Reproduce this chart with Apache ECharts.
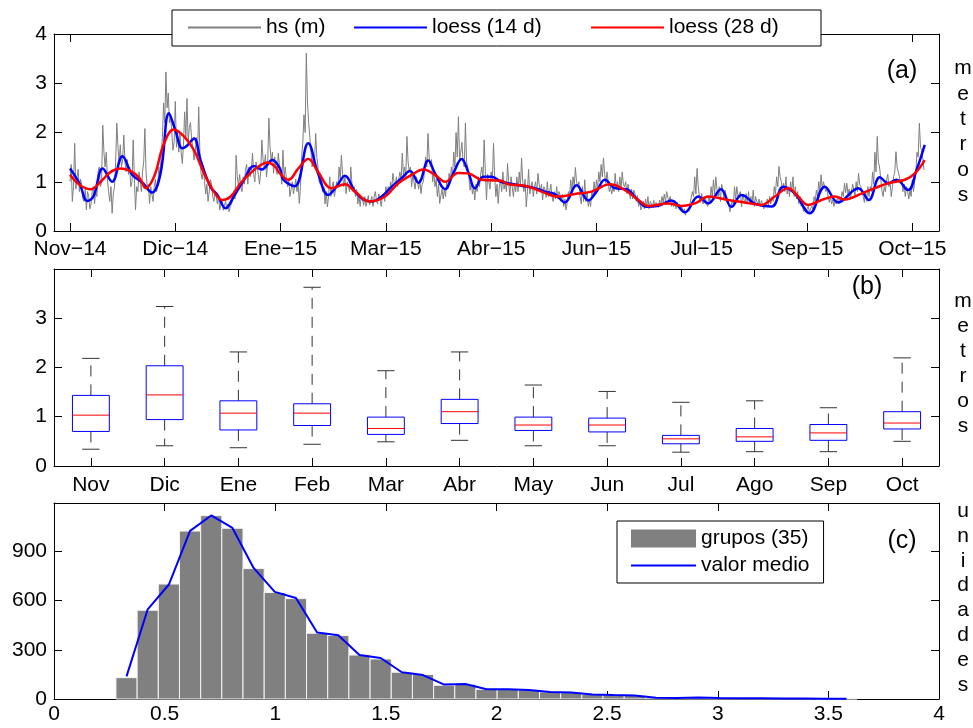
<!DOCTYPE html>
<html><head><meta charset="utf-8">
<script src="https://cdn.jsdelivr.net/npm/echarts@6/dist/echarts.min.js"></script>
<style>html,body{margin:0;padding:0;background:#fff}#c{width:973px;height:728px}</style>
</head><body><div id="c"></div>
<script>
const FONT = "'Liberation Sans', Arial, Helvetica, sans-serif";

// ---------- (a) time series: readings twice a day from Nov-2014 ----------
// value at day d (00 h)
const hsAt00h = [
1.0,0.6,1.78,1.1,0.8,0.95,0.6,0.43,0.7,0.55,
0.9,0.83,1.2,0.9,2.15,1.3,1.04,0.6,0.36,0.9,
2.19,1.4,1.3,1.95,1.2,1.15,0.9,1.85,0.43,0.8,
1.04,1.2,2.08,0.9,0.56,0.75,0.9,0.8,1.3,1.6,
2.6,3.23,2.8,2.32,1.64,2.63,2.0,1.98,1.37,2.42,
2.69,2.1,1.85,1.44,1.9,2.52,1.17,1.3,0.75,0.6,
1.04,0.7,0.8,0.55,0.43,0.6,0.52,0.45,0.39,0.55,
0.8,1.54,0.9,0.9,1.1,1.25,0.95,1.1,1.58,1.0,
1.3,0.95,1.85,1.3,1.1,2.29,1.4,1.17,1.3,1.58,
1.2,1.64,1.3,0.9,0.7,1.0,0.9,0.8,0.56,1.5,
2.36,3.61,2.2,1.6,1.58,1.98,1.3,0.95,0.8,0.55,
0.49,1.1,0.9,0.7,1.0,1.3,1.54,0.9,0.76,0.9,
1.3,0.8,0.7,0.55,0.5,0.65,0.7,0.6,0.53,0.7,
0.7,0.6,0.75,0.5,0.75,0.9,0.9,1.0,1.17,0.9,
0.9,1.2,1.58,1.3,1.92,1.2,0.9,1.0,1.1,0.85,
0.76,1.0,1.5,1.98,1.31,1.0,0.9,0.7,0.56,0.85,
0.83,1.0,1.17,1.3,1.6,2.0,2.32,1.6,1.4,2.19,
1.3,0.83,0.75,0.63,0.8,0.9,1.3,1.85,0.63,1.0,
1.2,1.78,0.7,0.56,1.04,1.2,1.0,1.37,0.7,0.9,
0.97,1.1,1.2,1.48,0.8,0.49,1.25,0.9,0.7,1.0,
1.17,0.8,0.63,0.85,1.0,0.8,0.7,0.8,0.9,0.8,
0.6,0.5,0.43,0.8,1.04,1.1,1.29,0.9,0.7,0.9,
1.04,0.8,0.63,0.8,1.0,1.04,1.2,1.35,1.48,0.97,
1.0,0.9,0.88,1.17,1.0,1.1,1.2,0.9,0.76,0.8,
0.85,0.83,0.6,0.5,0.43,0.6,0.65,0.7,0.6,0.5,
0.49,0.6,0.63,0.7,0.75,0.8,0.6,0.5,0.49,0.45,
0.5,0.43,0.38,0.32,0.45,0.56,0.8,1.1,1.27,0.7,
0.76,0.6,0.56,0.7,0.9,1.04,1.1,0.7,0.6,0.83,
0.83,0.6,0.39,0.6,0.9,0.9,0.7,0.49,0.65,0.76,
0.8,0.7,0.83,0.7,0.55,0.49,0.6,0.56,0.65,0.7,
0.7,0.9,1.1,1.31,1.0,0.97,1.1,0.9,1.0,1.1,
0.9,0.8,0.7,0.55,0.49,0.45,0.39,0.5,0.7,0.83,
1.0,1.14,1.0,0.8,0.7,0.7,0.63,0.63,0.7,0.7,
0.8,0.97,0.97,0.85,0.8,0.83,1.0,1.17,0.9,0.7,
0.8,0.9,0.9,1.2,1.6,1.92,1.3,0.83,0.9,1.04,
0.9,0.7,1.1,1.61,1.2,0.97,0.8,0.7,0.8,0.83,
1.04,1.0,1.6,2.19,1.64,1.24];
// value at day d + 12 h
const hsAt12h = [
1.35,0.9,0.85,1.25,1.05,0.65,0.85,0.8,0.45,0.8,
0.55,0.7,1.3,1.0,1.6,1.6,0.8,0.9,0.75,1.4,
1.7,1.75,1.45,1.4,1.45,1.3,1.0,1.1,0.9,1.2,
0.8,1.4,1.2,0.95,0.9,0.6,1.05,0.95,1.1,1.9,
2.2,2.5,2.2,2.0,1.8,1.7,1.6,1.6,1.75,1.9,
1.8,2.2,1.7,1.6,1.5,1.6,1.05,1.0,0.95,0.8,
0.95,0.6,0.7,0.7,0.55,0.42,0.6,0.55,0.5,0.62,
0.65,1.1,1.15,0.8,0.95,1.35,1.3,1.2,1.15,1.4,
1.15,1.2,1.45,1.55,1.4,1.7,1.6,1.5,1.15,1.35,
0.95,1.1,1.05,1.05,0.85,0.75,1.05,0.95,0.9,1.8,
2.0,2.6,1.9,1.3,1.4,1.5,1.0,1.1,0.9,0.8,
0.7,0.7,1.0,0.85,0.9,1.05,1.15,1.1,1.0,0.8,
0.95,0.9,0.85,0.72,0.7,0.52,0.5,0.72,0.6,0.5,
0.8,0.55,0.65,0.7,0.6,0.75,0.75,0.85,1.0,1.1,
1.05,1.0,1.15,1.1,1.4,1.3,1.15,0.85,1.0,1.05,
0.95,1.2,1.3,1.5,1.45,1.2,1.05,0.95,0.72,0.65,
0.7,0.85,1.0,1.1,1.3,1.5,1.45,1.8,1.3,1.4,
1.1,1.0,0.9,0.95,1.1,1.15,1.05,1.2,1.15,0.85,
1.0,1.1,0.95,0.9,0.8,0.85,0.8,1.0,1.1,0.7,
0.8,0.8,0.9,1.0,1.05,0.8,0.75,1.0,0.9,0.75,
0.95,0.95,0.9,0.68,0.7,0.95,0.6,0.65,0.65,0.72,
0.75,0.65,0.58,0.7,0.8,0.9,1.0,1.0,0.55,0.6,
0.6,0.5,0.5,0.7,0.75,0.85,1.0,1.1,1.15,1.2,
0.8,0.75,0.8,0.85,0.8,0.85,0.95,1.0,0.95,0.65,
0.65,0.75,0.72,0.6,0.5,0.45,0.5,0.45,0.62,0.62,
0.58,0.48,0.52,0.58,0.6,0.68,0.7,0.6,0.62,0.58,
0.55,0.5,0.45,0.4,0.4,0.55,0.7,0.75,0.9,0.58,
0.55,0.68,0.5,0.6,0.7,0.75,0.85,0.9,0.95,0.65,
0.62,0.55,0.5,0.55,0.65,0.7,0.8,0.75,0.55,0.55,
0.55,0.55,0.5,0.6,0.65,0.62,0.45,0.5,0.5,0.55,
0.6,0.75,0.9,1.1,0.85,0.8,0.75,0.7,0.8,0.7,
0.65,0.55,0.5,0.4,0.38,0.5,0.35,0.45,0.6,0.7,
0.8,0.85,0.9,0.85,0.58,0.55,0.5,0.55,0.55,0.6,
0.7,0.78,0.75,0.65,0.95,0.72,0.8,0.95,0.8,0.58,
0.6,0.7,0.8,0.95,1.2,1.4,1.05,0.7,0.8,1.15,
1.0,0.9,1.2,1.3,1.1,1.05,0.95,0.9,0.65,0.7,
0.8,1.2,1.5,1.7,1.45];

const loess14Day = [0,4,7.4,10,14,18,22.4,26.6,31,35,38.7,42.3,45,48,50,53,55.8,60,63,66.5,70,74.4,78.6,82,86.5,89.7,91.2,96.1,101.8,106,110.4,113.9,117.5,121.8,125.3,128.9,133.2,137.5,141.7,145.3,148.9,153.1,156,160.3,163.8,167.4,170.2,173.1,176.6,180.2,184.2,187.3,193,198.7,203,207.2,211.5,216.5,221.5,225,228.6,232.9,237.9,242.1,246.4,251.4,257.1,262.8,268.5,272.8,278.2,282.7,287,293,300,304.8,309.8,316.2,322.6,328.3,336.9,341.4,346.1,349.7,353.2,358.2,361.8,365.3];
const loess14 = [1.27,0.97,0.61,0.70,1.27,1.0,1.52,1.14,0.98,0.78,1.17,2.39,2.05,1.68,1.73,1.88,1.44,0.90,0.73,0.46,0.70,1.04,1.32,1.25,1.44,1.27,1.04,0.91,1.78,1.17,0.73,0.90,1.12,0.80,0.64,0.60,0.70,0.90,1.07,1.22,0.98,1.43,1.17,0.85,1.17,1.46,1.20,0.87,1.10,1.10,1.0,0.97,0.92,0.87,0.80,0.75,0.58,0.93,0.62,0.80,1.04,0.87,0.85,0.66,0.49,0.51,0.62,0.38,0.70,0.56,0.85,0.49,0.73,0.55,0.50,0.90,0.76,0.36,0.90,0.58,0.87,0.63,1.09,0.97,1.04,0.83,1.24,1.75];

const loess28Day = [0,4.3,8.8,13.1,17.4,21.6,26.6,30.2,32.3,35.9,40.2,44.4,48.7,53,57.3,61.5,65.1,68.7,72.9,77.2,81.5,84.3,87.6,89.7,93.3,97.6,101.8,106,111.8,117.5,121.8,128.2,134.6,140.3,146,151,156,160.3,165.9,170.2,175.9,184.2,187.3,194.4,201.5,208.7,215.8,222.9,230.7,237.2,242.9,247.1,255.7,261.4,267.1,272.8,278.2,281.3,288.4,295.5,301.2,306.9,311.2,315.5,321.2,326.9,331.2,338.3,344,349.7,356.8,361.1,365.3];
const loess28 = [1.14,0.93,0.85,1.0,1.2,1.27,1.2,1.04,0.87,1.10,1.78,2.06,1.92,1.64,1.17,0.80,0.63,0.70,0.97,1.18,1.34,1.39,1.31,1.17,1.04,1.27,1.46,1.20,0.87,0.95,0.80,0.60,0.70,0.97,1.14,1.25,1.14,1.0,1.18,1.17,1.04,1.02,0.95,0.92,0.80,0.70,0.75,0.80,0.95,0.83,0.63,0.51,0.56,0.51,0.56,0.70,0.66,0.63,0.58,0.53,0.70,0.87,0.70,0.53,0.63,0.70,0.64,0.76,0.87,0.97,1.04,1.17,1.44];

const dateTickDays = [0,45,90,135,180,225,270,315,360];
const dateTickLabels = ['Nov\u221214','Dic\u221214','Ene\u221215','Mar\u221215','Abr\u221215','Jun\u221215','Jul\u221215','Sep\u221215','Oct\u221215'];

// ---------- (b) monthly box plots ----------
const months = ['Nov','Dic','Ene','Feb','Mar','Abr','May','Jun','Jul','Ago','Sep','Oct'];
const whiskerLow  = [0.34,0.41,0.37,0.44,0.49,0.52,0.41,0.41,0.28,0.29,0.29,0.50];
const quart1      = [0.70,0.94,0.73,0.82,0.64,0.86,0.72,0.69,0.45,0.50,0.52,0.75];
const medians     = [1.03,1.44,1.07,1.07,0.76,1.10,0.83,0.83,0.55,0.59,0.67,0.87];
const quart3      = [1.43,2.03,1.32,1.26,0.99,1.35,0.99,0.97,0.62,0.76,0.84,1.10];
const whiskerHigh = [2.18,3.23,2.31,3.62,1.93,2.31,1.64,1.51,1.29,1.32,1.18,2.19];

// ---------- (c) histogram, 35 groups ----------
const histLo = 0.28, histHi = 3.63;
const histCounts = [130,541,701,1024,1118,1041,795,649,612,401,387,268,244,163,149,84,90,59,59,55,43,40,28,24,22,8,6,9,6,5,4,3,3,2,2];
const meanCurve  = [138,547,698,1025,1119,1043,799,653,616,405,389,268,250,163,146,88,92,59,59,55,43,40,28,24,22,8,6,9,6,5,4,3,3,2,2];

// ---------- build ----------
const hsSeriesData = [];
hsAt00h.forEach((v, d) => {
  hsSeriesData.push([d, v]);
  if (d < hsAt12h.length) hsSeriesData.push([d + 0.5, hsAt12h[d]]);
});
const binW = (histHi - histLo) / histCounts.length;
const txt = {fontFamily: FONT, fontSize: 21, color: '#000'};
const tickIn = {show: true, inside: true, length: 8, lineStyle: {color: '#000', width: 1}};
const noSym = {opacity: 0, borderWidth: 0};

function vAxis(grid, pos, min, max, interval, showLabel) {
  return {
    type: 'value', gridIndex: grid, position: pos, min, max, interval,
    axisLine: {show: true, onZero: false, lineStyle: {color: '#000', width: 1}},
    axisTick: tickIn, splitLine: {show: false},
    axisLabel: Object.assign({show: showLabel, margin: 7,
      formatter: v => (Math.abs(v / interval - Math.round(v / interval)) < 1e-6 ? String(+v.toFixed(2)) : '')}, txt)
  };
}

const chart = echarts.init(document.getElementById('c'), null, {renderer: 'canvas'});
const option = {
  animation: false,
  backgroundColor: '#fff',
  grid: [
    {left: 54, right: 34, top: 34, height: 197},
    {left: 54, right: 34, top: 269, height: 197},
    {left: 54, right: 34, top: 503, height: 196}
  ],
  xAxis: [
    {type: 'value', gridIndex: 0, position: 'bottom', min: -6.84, max: 371.4,
      axisLine: {show: true, onZero: false, lineStyle: {color: '#000'}}, splitLine: {show: false},
      axisTick: Object.assign({customValues: dateTickDays}, tickIn),
      axisLabel: Object.assign({customValues: dateTickDays, margin: 8,
        formatter: v => dateTickLabels[dateTickDays.indexOf(Math.round(v))] || ''}, txt)},
    {type: 'value', gridIndex: 0, position: 'top', min: -6.84, max: 371.4,
      axisLine: {show: true, onZero: false, lineStyle: {color: '#000'}}, splitLine: {show: false},
      axisTick: Object.assign({customValues: dateTickDays}, tickIn), axisLabel: {show: false}},
    {type: 'category', gridIndex: 1, position: 'bottom', data: months, boundaryGap: true,
      axisLine: {show: true, onZero: false, lineStyle: {color: '#000'}},
      axisTick: Object.assign({alignWithLabel: true}, tickIn),
      axisLabel: Object.assign({margin: 9}, txt)},
    {type: 'category', gridIndex: 1, position: 'top', data: months, boundaryGap: true,
      axisLine: {show: true, onZero: false, lineStyle: {color: '#000'}},
      axisTick: Object.assign({alignWithLabel: true}, tickIn), axisLabel: {show: false}},
    {type: 'value', gridIndex: 2, position: 'bottom', min: 0, max: 4, interval: 0.5,
      axisLine: {show: true, onZero: false, lineStyle: {color: '#000'}}, splitLine: {show: false},
      axisTick: tickIn, axisLabel: Object.assign({margin: 5}, txt)},
    {type: 'value', gridIndex: 2, position: 'top', min: 0, max: 4, interval: 0.5,
      axisLine: {show: true, onZero: false, lineStyle: {color: '#000'}}, splitLine: {show: false},
      axisTick: tickIn, axisLabel: {show: false}}
  ],
  yAxis: [
    vAxis(0, 'left', 0, 4, 1, true),
    vAxis(0, 'right', 0, 4, 1, false),
    vAxis(1, 'left', 0, 3.99, 1, true),
    vAxis(1, 'right', 0, 3.99, 1, false),
    vAxis(2, 'left', 0, 1195, 300, true),
    vAxis(2, 'right', 0, 1195, 300, false)
  ],
  legend: [
    {data: [{name: 'hs (m)', itemStyle: noSym}], left: 187, top: 17, padding: 0, itemWidth: 73, itemHeight: 14, selectedMode: false, textStyle: txt, z: 20},
    {data: [{name: 'loess (14 d)', itemStyle: noSym}], left: 353, top: 17, padding: 0, itemWidth: 73, itemHeight: 14, selectedMode: false, textStyle: txt, z: 20},
    {data: [{name: 'loess (28 d)', itemStyle: noSym}], left: 590, top: 17, padding: 0, itemWidth: 73, itemHeight: 14, selectedMode: false, textStyle: txt, z: 20},
    {data: [{name: 'grupos (35)', icon: 'rect'}, {name: 'valor medio', itemStyle: noSym}], orient: 'vertical', left: 617, top: 521,
      padding: [7, 14, 7, 13], itemGap: 6, itemWidth: 65, itemHeight: 18, selectedMode: false,
      borderColor: '#000', borderWidth: 1, backgroundColor: '#fff', textStyle: txt, z: 20}
  ],
  graphic: [
    {type: 'rect', z: 15, shape: {x: 172, y: 10, width: 649, height: 36}, style: {fill: '#fff', stroke: '#000', lineWidth: 1}},
    {type: 'text', z: 15, x: 902, y: 71, style: {text: '(a)', font: '25px ' + FONT, fontSize: 25, fontFamily: FONT, fill: '#000', textAlign: 'center', align: 'center', textVerticalAlign: 'middle', verticalAlign: 'middle'}},
    {type: 'text', z: 15, x: 867, y: 287, style: {text: '(b)', font: '25px ' + FONT, fontSize: 25, fontFamily: FONT, fill: '#000', textAlign: 'center', align: 'center', textVerticalAlign: 'middle', verticalAlign: 'middle'}},
    {type: 'text', z: 15, x: 902, y: 541, style: {text: '(c)', font: '25px ' + FONT, fontSize: 25, fontFamily: FONT, fill: '#000', textAlign: 'center', align: 'center', textVerticalAlign: 'middle', verticalAlign: 'middle'}},
    {type: 'text', z: 15, x: 963, y: 132, style: {text: 'm\ne\nt\nr\no\ns', font: '21px ' + FONT, fontSize: 21, fontFamily: FONT, lineHeight: 25.4, fill: '#000', textAlign: 'center', align: 'center', textVerticalAlign: 'middle', verticalAlign: 'middle'}},
    {type: 'text', z: 15, x: 963, y: 364, style: {text: 'm\ne\nt\nr\no\ns', font: '21px ' + FONT, fontSize: 21, fontFamily: FONT, lineHeight: 25, fill: '#000', textAlign: 'center', align: 'center', textVerticalAlign: 'middle', verticalAlign: 'middle'}},
    {type: 'text', z: 15, x: 963, y: 598, style: {text: 'u\nn\ni\nd\na\nd\ne\ns', font: '21px ' + FONT, fontSize: 21, fontFamily: FONT, lineHeight: 24.8, fill: '#000', textAlign: 'center', align: 'center', textVerticalAlign: 'middle', verticalAlign: 'middle'}}
  ],
  series: [
    {name: 'hs (m)', type: 'line', xAxisIndex: 0, yAxisIndex: 0, symbol: 'none',
      lineStyle: {color: '#7f7f7f', width: 1}, itemStyle: {color: '#7f7f7f'},
      data: hsSeriesData},
    {name: 'loess (14 d)', type: 'line', xAxisIndex: 0, yAxisIndex: 0, symbol: 'none', smooth: 0.4,
      lineStyle: {color: '#0000ff', width: 2.5}, itemStyle: {color: '#0000ff'},
      data: loess14Day.map((d, i) => [d, loess14[i]])},
    {name: 'loess (28 d)', type: 'line', xAxisIndex: 0, yAxisIndex: 0, symbol: 'none', smooth: 0.4,
      lineStyle: {color: '#ff0000', width: 2.5}, itemStyle: {color: '#ff0000'},
      data: loess28Day.map((d, i) => [d, loess28[i]])},
    {name: 'box', type: 'custom', xAxisIndex: 2, yAxisIndex: 2,
      encode: {x: 0, y: [1, 2, 3, 4, 5]},
      data: months.map((m, i) => [i, whiskerLow[i], quart1[i], medians[i], quart3[i], whiskerHigh[i]]),
      renderItem: function (params, api) {
        const i = api.value(0);
        const band = api.size([1, 0])[0];
        const cx = api.coord([i, 0])[0];
        const bw = band * 0.5, cw = band * 0.235;
        const yLo = api.coord([i, api.value(1)])[1];
        const yQ1 = api.coord([i, api.value(2)])[1];
        const yMd = api.coord([i, api.value(3)])[1];
        const yQ3 = api.coord([i, api.value(4)])[1];
        const yHi = api.coord([i, api.value(5)])[1];
        const wk = {stroke: '#333', lineWidth: 1, lineDash: [11, 8]};
        const cap = {stroke: '#333', lineWidth: 1};
        return {type: 'group', children: [
          {type: 'line', shape: {x1: cx, y1: yQ3, x2: cx, y2: yHi}, style: wk},
          {type: 'line', shape: {x1: cx, y1: yQ1, x2: cx, y2: yLo}, style: wk},
          {type: 'line', shape: {x1: cx - cw / 2, y1: yHi, x2: cx + cw / 2, y2: yHi}, style: cap},
          {type: 'line', shape: {x1: cx - cw / 2, y1: yLo, x2: cx + cw / 2, y2: yLo}, style: cap},
          {type: 'rect', shape: {x: cx - bw / 2, y: yQ3, width: bw, height: yQ1 - yQ3}, style: {fill: 'none', stroke: '#0000ff', lineWidth: 1}},
          {type: 'line', shape: {x1: cx - bw / 2, y1: yMd, x2: cx + bw / 2, y2: yMd}, style: {stroke: '#ff0000', lineWidth: 1}}
        ]};
      }},
    {name: 'grupos (35)', type: 'custom', xAxisIndex: 4, yAxisIndex: 4, itemStyle: {color: '#808080'},
      encode: {x: [0, 1], y: 2},
      data: histCounts.map((c, k) => [histLo + k * binW, histLo + (k + 1) * binW, c]),
      renderItem: function (params, api) {
        const p0 = api.coord([api.value(0), api.value(2)]);
        const p1 = api.coord([api.value(1), 0]);
        return {type: 'rect', shape: {x: p0[0], y: p0[1], width: p1[0] - p0[0], height: p1[1] - p0[1]},
          style: {fill: '#808080', stroke: '#f4f4f4', lineWidth: 1}};
      }},
    {name: 'valor medio', type: 'line', xAxisIndex: 4, yAxisIndex: 4, symbol: 'none',
      lineStyle: {color: '#0000ff', width: 2}, itemStyle: {color: '#0000ff'}, z: 3,
      data: meanCurve.map((c, k) => [histLo + (k + 0.5) * binW, c])}
  ]
};
chart.setOption(option);
</script>
</body></html>
